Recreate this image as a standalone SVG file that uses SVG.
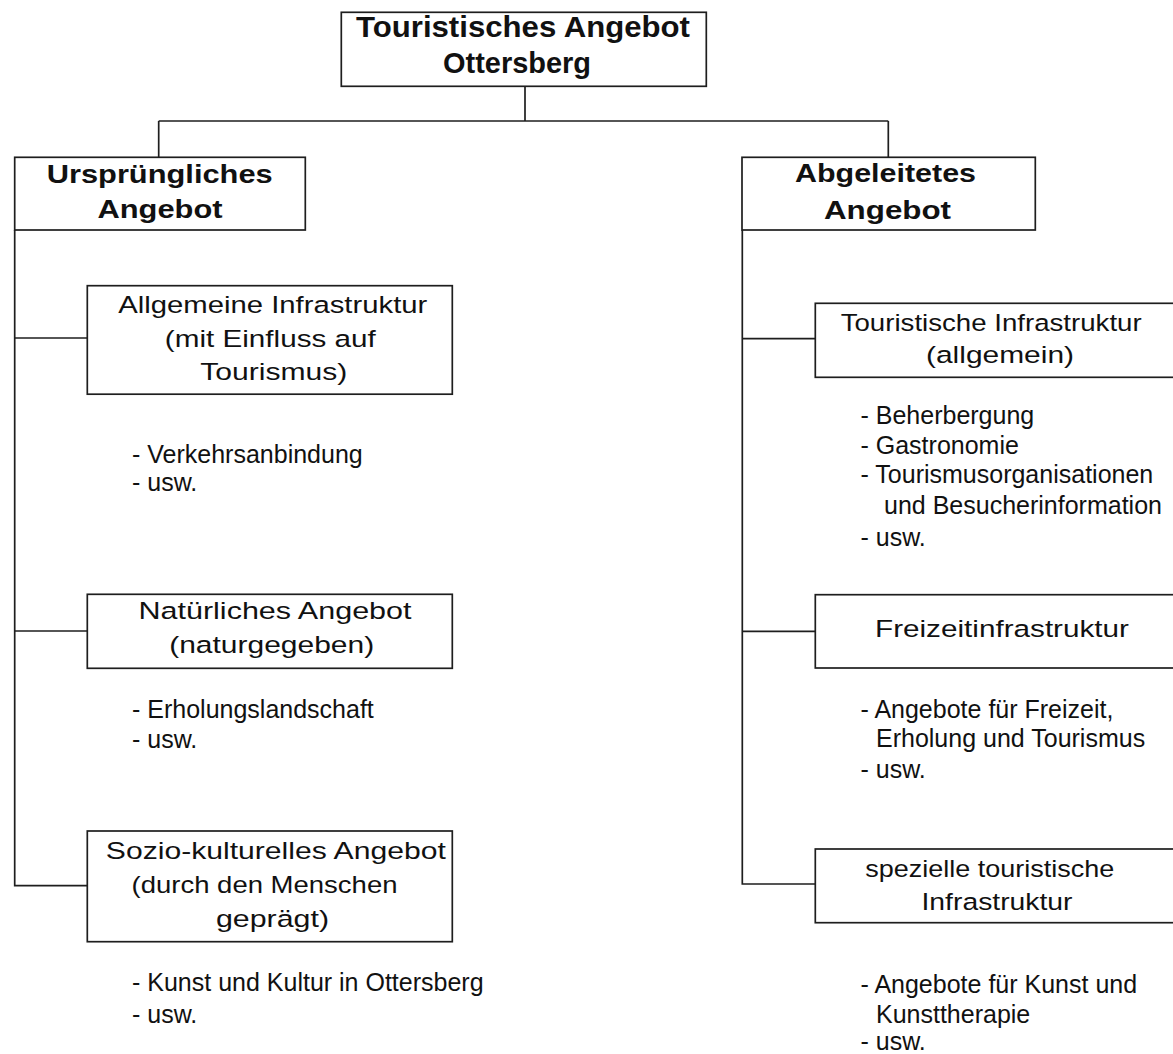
<svg xmlns="http://www.w3.org/2000/svg" width="1173" height="1054" viewBox="0 0 1173 1054">
<style>
  .bg{fill:#ffffff}
  .node rect{fill:#ffffff;stroke:#1e1e1e;stroke-width:1.7}
  #connectors path{fill:none;stroke:#1e1e1e;stroke-width:1.7}
  text{font-family:"Liberation Sans",Arial,sans-serif;fill:#111111}
  .title{font-size:29.5px;font-weight:bold;text-anchor:middle}
  .head{font-size:25.5px;font-weight:bold;text-anchor:middle}
  .box{font-size:24.5px;text-anchor:middle}
  .bul{font-size:25px}
</style>
<rect class="bg" x="0" y="0" width="1173" height="1054"/>
<g id="connectors">
  <path d="M525,86 V121"/>
  <path d="M158.7,121 H888.3"/>
  <path d="M158.7,121 V157.3"/>
  <path d="M888.3,121 V157.3"/>
  <path d="M14.7,230 V885.7 H87.3"/>
  <path d="M14.7,338 H87.3"/>
  <path d="M14.7,631 H87.3"/>
  <path d="M742.3,230 V884 H815.3"/>
  <path d="M742.3,338.7 H815.3"/>
  <path d="M742.3,631.3 H815.3"/>
</g>
<g id="root" class="node">
  <rect x="341.3" y="12.3" width="365" height="74"/>
  <text class="title" x="523" y="37.3" textLength="334" lengthAdjust="spacingAndGlyphs">Touristisches Angebot</text>
  <text class="title" x="517" y="72.7" textLength="148" lengthAdjust="spacingAndGlyphs">Ottersberg</text>
</g>
<g id="urspruengliches" class="node">
  <rect x="14.7" y="157.3" width="290.6" height="72.7"/>
  <text class="head" x="159.7" y="183.3" textLength="226" lengthAdjust="spacingAndGlyphs">Ursprüngliches</text>
  <text class="head" x="160" y="218.3" textLength="125" lengthAdjust="spacingAndGlyphs">Angebot</text>
</g>
<g id="abgeleitetes" class="node">
  <rect x="742" y="157.3" width="293.3" height="72.7"/>
  <text class="head" x="885.5" y="182.3" textLength="181" lengthAdjust="spacingAndGlyphs">Abgeleitetes</text>
  <text class="head" x="887.5" y="219" textLength="127" lengthAdjust="spacingAndGlyphs">Angebot</text>
</g>
<g id="allgemeine" class="node">
  <rect x="87.3" y="285.7" width="365" height="108.5"/>
  <text class="box" x="272.8" y="313.3" textLength="309" lengthAdjust="spacingAndGlyphs">Allgemeine Infrastruktur</text>
  <text class="box" x="270.3" y="346.7" textLength="211" lengthAdjust="spacingAndGlyphs">(mit Einfluss auf</text>
  <text class="box" x="273.8" y="380" textLength="147" lengthAdjust="spacingAndGlyphs">Tourismus)</text>
</g>
<g id="allgemeine-list">
  <text class="bul" x="132" y="462.7">- Verkehrsanbindung</text>
  <text class="bul" x="132" y="491">- usw.</text>
</g>
<g id="natuerliches" class="node">
  <rect x="87.3" y="594.3" width="365" height="74"/>
  <text class="box" x="275" y="619.3" textLength="273" lengthAdjust="spacingAndGlyphs">Natürliches Angebot</text>
  <text class="box" x="271.7" y="652.7" textLength="205" lengthAdjust="spacingAndGlyphs">(naturgegeben)</text>
</g>
<g id="natuerliches-list">
  <text class="bul" x="132" y="718.3">- Erholungslandschaft</text>
  <text class="bul" x="132" y="747.7">- usw.</text>
</g>
<g id="soziokulturelles" class="node">
  <rect x="87.3" y="831" width="365" height="110.7"/>
  <text class="box" x="275.8" y="859" textLength="340" lengthAdjust="spacingAndGlyphs">Sozio-kulturelles Angebot</text>
  <text class="box" x="264.5" y="893.3" textLength="266" lengthAdjust="spacingAndGlyphs">(durch den Menschen</text>
  <text class="box" x="272.5" y="926.7" textLength="113" lengthAdjust="spacingAndGlyphs">geprägt)</text>
</g>
<g id="soziokulturelles-list">
  <text class="bul" x="132" y="991">- Kunst und Kultur in Ottersberg</text>
  <text class="bul" x="132" y="1023.3">- usw.</text>
</g>
<g id="touristische" class="node">
  <rect x="815.3" y="303.3" width="400" height="74"/>
  <text class="box" x="991.2" y="330.7" textLength="301" lengthAdjust="spacingAndGlyphs">Touristische Infrastruktur</text>
  <text class="box" x="1000" y="362.7" textLength="148" lengthAdjust="spacingAndGlyphs">(allgemein)</text>
</g>
<g id="touristische-list">
  <text class="bul" x="860.5" y="424">- Beherbergung</text>
  <text class="bul" x="860.5" y="454">- Gastronomie</text>
  <text class="bul" x="860.5" y="483.3">- Tourismusorganisationen</text>
  <text class="bul" x="884" y="514">und Besucherinformation</text>
  <text class="bul" x="860.5" y="546">- usw.</text>
</g>
<g id="freizeit" class="node">
  <rect x="815.3" y="594.7" width="400" height="73.3"/>
  <text class="box" x="1002" y="636.7" textLength="254" lengthAdjust="spacingAndGlyphs">Freizeitinfrastruktur</text>
</g>
<g id="freizeit-list">
  <text class="bul" x="860.5" y="718.3">- Angebote für Freizeit,</text>
  <text class="bul" x="876" y="747.3">Erholung und Tourismus</text>
  <text class="bul" x="860.5" y="778.3">- usw.</text>
</g>
<g id="spezielle" class="node">
  <rect x="815.3" y="849" width="400" height="73.7"/>
  <text class="box" x="989.7" y="876.7" textLength="249" lengthAdjust="spacingAndGlyphs">spezielle touristische</text>
  <text class="box" x="997" y="910" textLength="151" lengthAdjust="spacingAndGlyphs">Infrastruktur</text>
</g>
<g id="spezielle-list">
  <text class="bul" x="860.5" y="993.3">- Angebote für Kunst und</text>
  <text class="bul" x="876" y="1022.7">Kunsttherapie</text>
  <text class="bul" x="860.5" y="1050">- usw.</text>
</g>
</svg>
